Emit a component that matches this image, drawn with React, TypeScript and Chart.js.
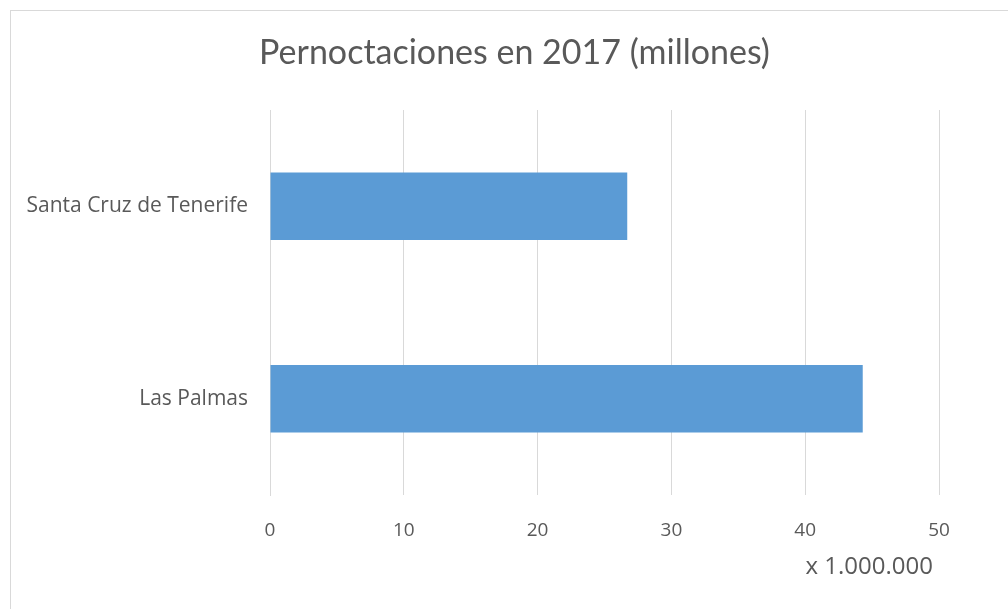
import React, { useEffect, useRef } from "react";
import { Chart, registerables } from "chart.js";

Chart.register(...registerables);

const categories: string[] = ["Santa Cruz de Tenerife", "Las Palmas"];
const pernoctaciones: number[] = [26.7, 44.3];
const xTicks: number[] = [0, 10, 20, 30, 40, 50];
const titleText = "Pernoctaciones en 2017 (millones)";
const unitLabel = "x 1.000.000";

const TITLE_FONT = "Lato, 'Open Sans', sans-serif";
const FONT = "'Open Sans', Lato, sans-serif";
const TEXT = "#595959";

const textPlugin = {
  id: "customTexts",
  afterDraw(chart: any) {
    const ctx = chart.ctx;
    ctx.save();
    ctx.fillStyle = TEXT;
    ctx.textBaseline = "middle";
    ctx.textAlign = "center";
    ctx.font = `normal 34px ${TITLE_FONT}`;
    ctx.fillText(titleText, chart.width / 2 + 5, 42);
    ctx.textAlign = "right";
    ctx.font = `normal 24px ${FONT}`;
    ctx.fillText(unitLabel, chart.chartArea.right - 6, 556);
    ctx.restore();
  },
};

export default function App() {
  const ref = useRef<HTMLCanvasElement | null>(null);

  useEffect(() => {
    if (!ref.current) return;
    const chart = new Chart(ref.current, {
      type: "bar",
      data: {
        labels: categories,
        datasets: [
          {
            data: pernoctaciones,
            backgroundColor: "#5B9BD5",
            borderWidth: 0,
            categoryPercentage: 1,
            barPercentage: 0.35,
          },
        ],
      },
      options: {
        indexAxis: "y",
        animation: false,
        responsive: false,
        layout: { padding: { left: 0, right: 69, top: 99, bottom: 0 } },
        plugins: {
          legend: { display: false },
          tooltip: { enabled: false },
          title: { display: false },
        },
        scales: {
          x: {
            min: xTicks[0],
            max: xTicks[xTicks.length - 1],
            afterBuildTicks: (scale: any) => {
              scale.ticks = xTicks.map((v) => ({ value: v }));
            },
            afterFit: (scale: any) => {
              scale.height = 114;
            },
            grid: { color: "#d9d9d9", drawTicks: false },
            border: { display: false },
            ticks: {
              color: TEXT,
              padding: 24,
              font: { family: FONT, size: 19 },
            },
          },
          y: {
            afterFit: (scale: any) => {
              scale.width = 259;
            },
            grid: { display: false, drawTicks: false },
            border: { display: true, color: "#d9d9d9" },
            ticks: {
              color: TEXT,
              padding: 22,
              font: { family: FONT, size: 21 },
            },
          },
        },
      },
      plugins: [textPlugin],
    });
    return () => chart.destroy();
  }, []);

  return (
    <div
      style={{
        position: "absolute",
        left: 10,
        top: 10,
        width: 998,
        height: 599,
        borderTop: "1px solid #d9d9d9",
        borderLeft: "1px solid #d9d9d9",
        boxSizing: "border-box",
        overflow: "hidden",
        background: "#fff",
      }}
    >
      <canvas ref={ref} width={997} height={598} style={{ display: "block" }} />
    </div>
  );
}
